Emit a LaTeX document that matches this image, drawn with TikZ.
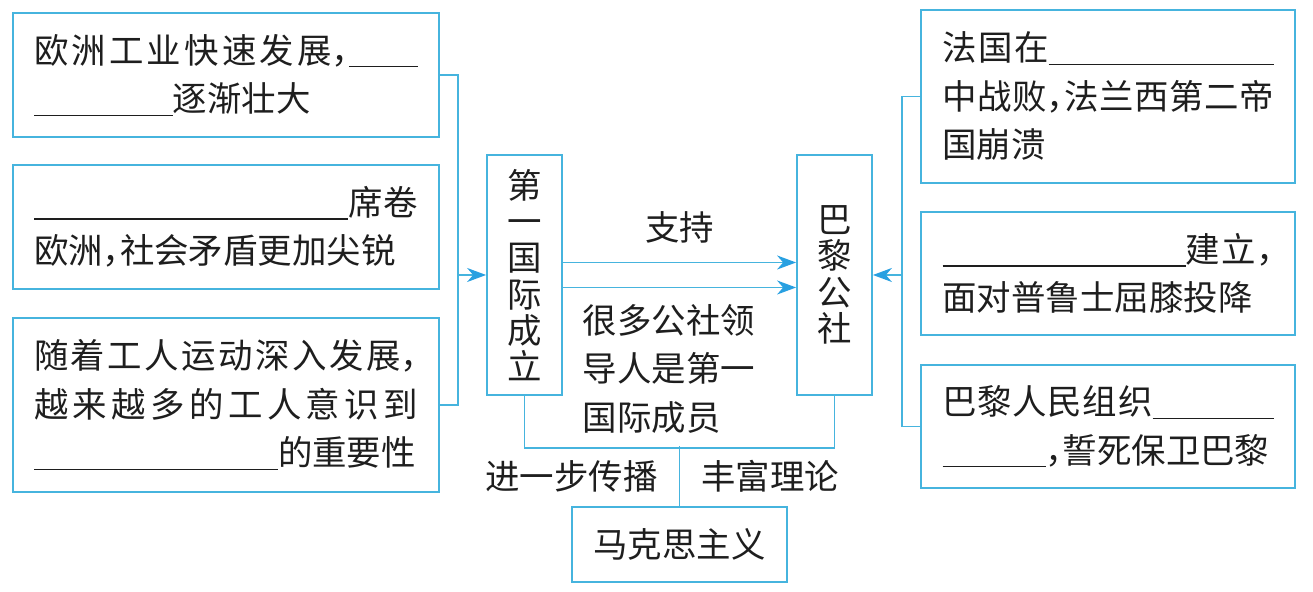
\documentclass[tikz,border=0pt]{standalone}
\usepackage{fontspec}
\setmainfont{Noto Sans CJK SC}
\usetikzlibrary{arrows.meta,positioning}
\definecolor{lineblue}{RGB}{70,180,222}
\definecolor{tipblue}{RGB}{40,160,225}
\definecolor{inkgray}{RGB}{30,30,30}
\XeTeXlinebreaklocale "zh"
\XeTeXlinebreakskip=0pt plus 6pt
\hbadness=10000
\newcommand{\blank}[1]{\rule[-0.12em]{#1}{0.7pt}}
\newcommand{\douhao}{\makebox[0.5em][l]{，}}

\begin{document}
\begin{tikzpicture}[every node/.append style={text=inkgray, font=\fontsize{19.6}{27.6}\selectfont},
		lbox/.style={draw=lineblue, line width=1pt, text width=7.68cm, inner xsep=0.42cm, align=justify, minimum height=2.48cm},
		rbox/.style={draw=lineblue, line width=1pt, text width=6.62cm, inner xsep=0.43cm, align=justify, minimum height=2.46cm},
		vbox/.style={draw=lineblue, line width=1pt, minimum width=1.5cm, minimum height=4.8cm, align=center, font=\fontsize{19.6}{20.6}\selectfont},
		conn/.style={draw=lineblue, line width=1pt},
		arr/.style={conn, -{Stealth[length=0.38cm, width=0.28cm, inset=0.12cm, color=tipblue]}}]
	\useasboundingbox (0,0) rectangle (26.26,11.84);

	\node[lbox] (ozgy) at (4.52,10.34) {欧洲工业快速发展\douhao\blank{1.38cm}\linebreak\blank{2.78cm}逐渐壮大};
	\node[lbox] (xijuan) at (4.52,7.30) {\blank{6.28cm}席卷\linebreak 欧洲\douhao 社会矛盾更加尖锐};
	\node[lbox, minimum height=3.48cm] (grdy) at (4.52,3.74) {随着工人运动深入发展\douhao\linebreak 越来越多的工人意识到\linebreak\blank{4.88cm}的重要性};

	\node[vbox] (dygj) at (10.49,6.34) {第\\一\\国\\际\\成\\立};
	\node[vbox] (blgs) at (16.69,6.34) {巴\\黎\\公\\社};
	\node[align=left] (lingdao) at (13.38,4.47) {很多公社领\\导人是第一\\国际成员};
	\node[draw=lineblue, line width=1pt, minimum width=4.3cm, minimum height=1.5cm] (mkszy) at (13.59,0.95) {马克思主义};

	\node[rbox, minimum height=3.46cm] (zhanbai) at (22.16,9.91) {法国在\blank{4.5cm}\linebreak 中战败\douhao 法兰西第二帝\linebreak 国崩溃};
	\node[rbox] (gonghe) at (22.16,6.37) {\blank{4.86cm}建立\douhao\linebreak 面对普鲁士屈膝投降};
	\node[rbox] (guomin) at (22.16,3.31) {巴黎人民组织\blank{2.42cm}\linebreak\blank{2.06cm}\douhao 誓死保卫巴黎};

	\draw[conn] (ozgy.east) -- ++(0.36,0) coordinate (lt) |- (grdy.east);
	\draw[arr] (lt |- dygj.west) -- (dygj.west);
	\draw[conn] (zhanbai.west) -- ++(-0.36,0) coordinate (rt) |- (guomin.west);
	\draw[arr] (rt |- blgs.east) -- (blgs.east);

	\draw[arr] ([yshift=0.25cm]dygj.east) -- node[above=0.25cm] (zhichi) {支持} ([yshift=0.25cm]blgs.west);
	\draw[arr] ([yshift=-0.25cm]dygj.east) -- ([yshift=-0.25cm]blgs.west);

	\draw[conn] (dygj.south) -- ++(0,-1.04) -| (blgs.south);
	\draw[conn] (mkszy.north) -- ++(0,1.2)
		node[pos=0.5, left=0.3cm] (chuanbo) {进一步传播}
		node[pos=0.5, right=0.3cm] (lilun) {丰富理论};
\end{tikzpicture}
\end{document}
